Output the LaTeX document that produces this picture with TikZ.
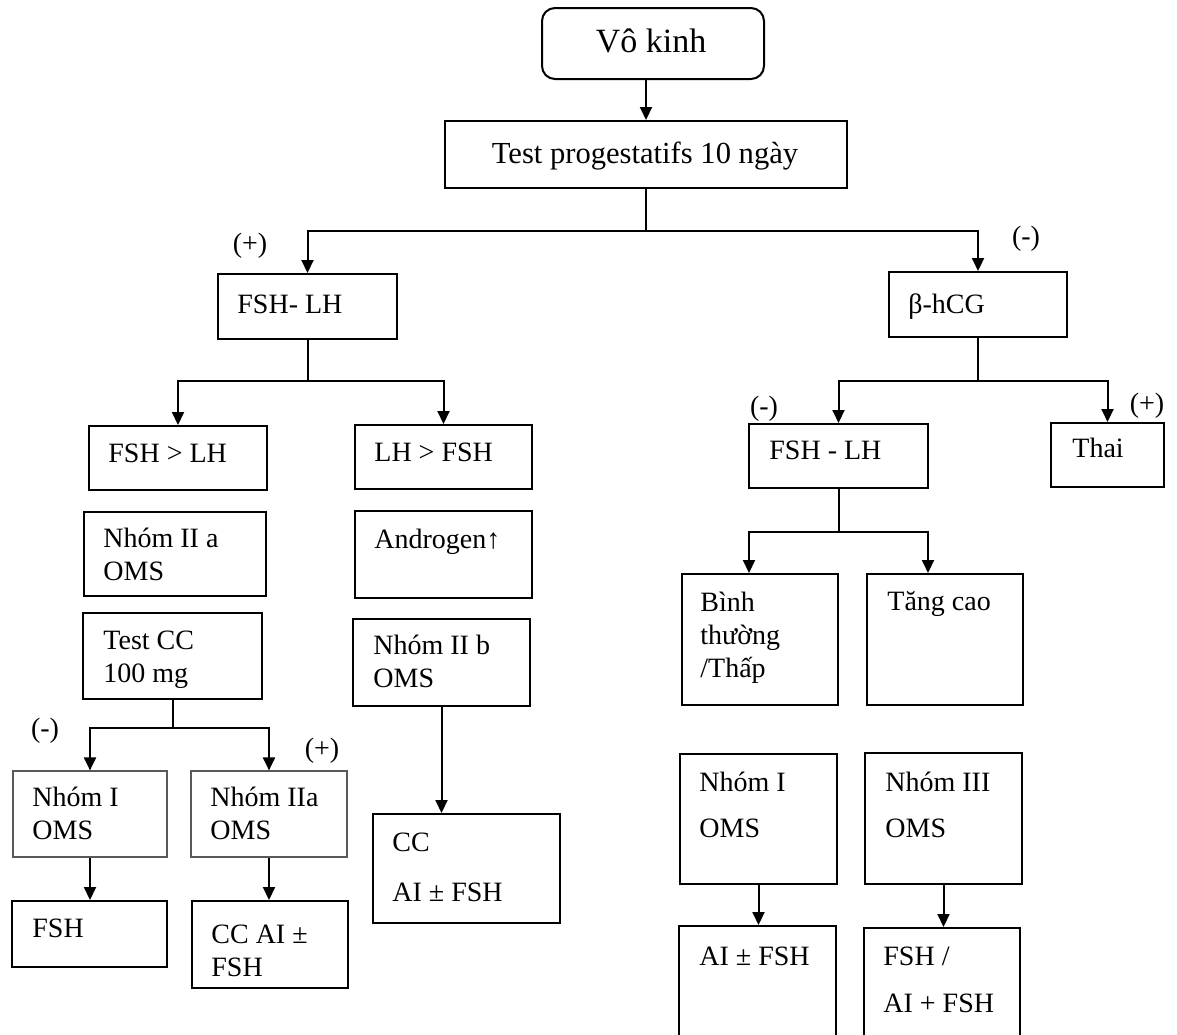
\documentclass[tikz,border=0pt]{standalone}
\usepackage{fontspec}
\setmainfont{Liberation Serif}
\usetikzlibrary{arrows.meta,fit}

\begin{document}
\begin{tikzpicture}[x=0.5pt,y=-0.5pt,
    box/.style={draw, line width=1pt, inner sep=0pt},
    greybox/.style={draw=black!65, line width=0.6pt, inner sep=0pt},
    txt/.style={inner sep=0pt, anchor=base west, align=left, font=\fontsize{14}{16.5}\selectfont},
    sign/.style={inner sep=0pt, anchor=base, font=\fontsize{14}{16.5}\selectfont},
    arr/.style={line width=1pt, -{Triangle[length=6.5pt,width=6pt]}},
    wire/.style={line width=1pt}]
    \useasboundingbox (0,0) rectangle (1177,1034);
    \clip (0,0) rectangle (1177,1034);

    % top
    \node[box, rounded corners=6.5pt, fit={(542,8) (764,79)}] (vokinh) {};
    \node[sign, font=\fontsize{17}{20}\selectfont] (vokinhtxt) at (651,52) {Vô kinh};
    \node[box, fit={(445,121) (847,188)}] (test) {};
    \node[sign, font=\fontsize{15.3}{18}\selectfont] (testtxt) at (645,163) {Test progestatifs 10 ngày};
    \coordinate (split) at (646,231);

    % left branch (multi-line texts sit on the baseline of their last line)
    \node[sign] (pos1) at (250,252) {(+)};
    \node[box, fit={(218,274) (397,339)}] (fshlh) {};
    \node[txt] (fshlhtxt) at (237,313) {FSH- LH};
    \coordinate (splitL) at (307.5,381);
    \node[box, fit={(89,426) (267,490)}] (fshgt) {};
    \node[txt] (fshgttxt) at (108,462) {FSH > LH};
    \node[box, fit={(355,425) (532,489)}] (lhgt) {};
    \node[txt] (lhgttxt) at (374,461) {LH > FSH};
    \node[box, fit={(84,512) (266,596)}] (nhom2a) {};
    \node[txt] (nhom2atxt) at (103,580) {Nhóm II a\\OMS};
    \node[box, fit={(355,511) (532,598)}] (androgen) {};
    \node[txt] (androgentxt) at (374,548) {Androgen↑};
    \node[box, fit={(83,613) (262,699)}] (testcc) {};
    \node[txt] (testcctxt) at (103,682) {Test CC\\100 mg};
    \node[box, fit={(353,619) (530,706)}] (nhom2b) {};
    \node[txt] (nhom2btxt) at (373,687) {Nhóm II b\\OMS};
    \coordinate (splitcc) at (172.5,728);
    \node[sign] (neg2) at (45,737) {(-)};
    \node[sign] (pos2) at (322,757) {(+)};
    \node[greybox, fit={(13,771) (167,857)}] (nhom1l) {};
    \node[txt] (nhom1ltxt) at (32,839) {Nhóm I\\OMS};
    \node[greybox, fit={(191,771) (347,857)}] (nhom2al) {};
    \node[txt] (nhom2altxt) at (210,839) {Nhóm IIa\\OMS};
    \node[box, fit={(12,901) (167,967)}] (fshl) {};
    \node[txt] (fshltxt) at (32,937) {FSH};
    \node[box, fit={(192,901) (348,988)}] (ccaifsh) {};
    \node[txt] (ccaifshtxt) at (211,976) {CC AI ±\\FSH};
    \node[box, fit={(373,814) (560,923)}] (ccai) {};
    \node[txt] (ccaitxt) at (392,901) {CC\\[8.5pt]AI ± FSH};

    % right branch
    \node[sign] (neg1) at (1026,245) {(-)};
    \node[box, fit={(889,272) (1067,337)}] (bhcg) {};
    \node[txt] (bhcgtxt) at (908,313) {β-hCG};
    \coordinate (splitR) at (978,381);
    \node[sign] (neg3) at (764,415) {(-)};
    \node[sign] (pos3) at (1147,412) {(+)};
    \node[box, fit={(749,424) (928,488)}] (fshlhr) {};
    \node[txt] (fshlhrtxt) at (769,459) {FSH - LH};
    \node[box, fit={(1051,423) (1164,487)}] (thai) {};
    \node[txt] (thaitxt) at (1072,457) {Thai};
    \coordinate (splitR2) at (838.5,532);
    \node[box, fit={(682,574) (838,705)}] (binh) {};
    \node[txt] (binhtxt) at (700,677) {Bình\\thường\\/Thấp};
    \node[box, fit={(867,574) (1023,705)}] (tangcao) {};
    \node[txt] (tangcaotxt) at (887,610) {Tăng cao};
    \node[box, fit={(680,754) (837,884)}] (nhom1r) {};
    \node[txt] (nhom1rtxt) at (699,837) {Nhóm I\\[6.5pt]OMS};
    \node[box, fit={(865,753) (1022,884)}] (nhom3) {};
    \node[txt] (nhom3txt) at (885,837) {Nhóm III\\[6.5pt]OMS};
    \node[box, fit={(679,926) (836,1050)}] (aifsh) {};
    \node[txt] (aifshtxt) at (699,965) {AI ± FSH};
    \node[box, fit={(864,928) (1020,1050)}] (fshaifsh) {};
    \node[txt] (fshaifshtxt) at (883,1012) {FSH /\\[7pt]AI + FSH};

    % connectors
    \draw[arr] (test.north |- vokinh.south) -- (test.north);
    \draw[wire] (test.south) -- (split);
    \draw[arr] (split) -| (fshlh.north);
    \draw[arr] (split) -| (bhcg.north);
    \draw[wire] (fshlh.south) -- (splitL);
    \draw[arr] (splitL) -| (fshgt.north);
    \draw[arr] (splitL) -| (lhgt.north);
    \draw[wire] (testcc.south) -- (splitcc);
    \draw[arr] (splitcc) -| (nhom1l.north);
    \draw[arr] (splitcc) -| (nhom2al.north);
    \draw[arr] (nhom1l.south) -- (nhom1l.south |- fshl.north);
    \draw[arr] (nhom2al.south) -- (nhom2al.south |- ccaifsh.north);
    \draw[arr] (nhom2b.south) -- (nhom2b.south |- ccai.north);
    \draw[wire] (bhcg.south) -- (splitR);
    \draw[arr] (splitR) -| (fshlhr.north);
    \draw[arr] (splitR) -| (thai.north);
    \draw[wire] (fshlhr.south) -- (splitR2);
    \draw[arr] (splitR2) -| ([xshift=-5.5pt]binh.north);
    \draw[arr] (splitR2) -| ([xshift=-8.5pt]tangcao.north);
    \draw[arr] (nhom1r.south) -- (nhom1r.south |- aifsh.north);
    \draw[arr] (nhom3.south) -- (nhom3.south |- fshaifsh.north);
\end{tikzpicture}
\end{document}
